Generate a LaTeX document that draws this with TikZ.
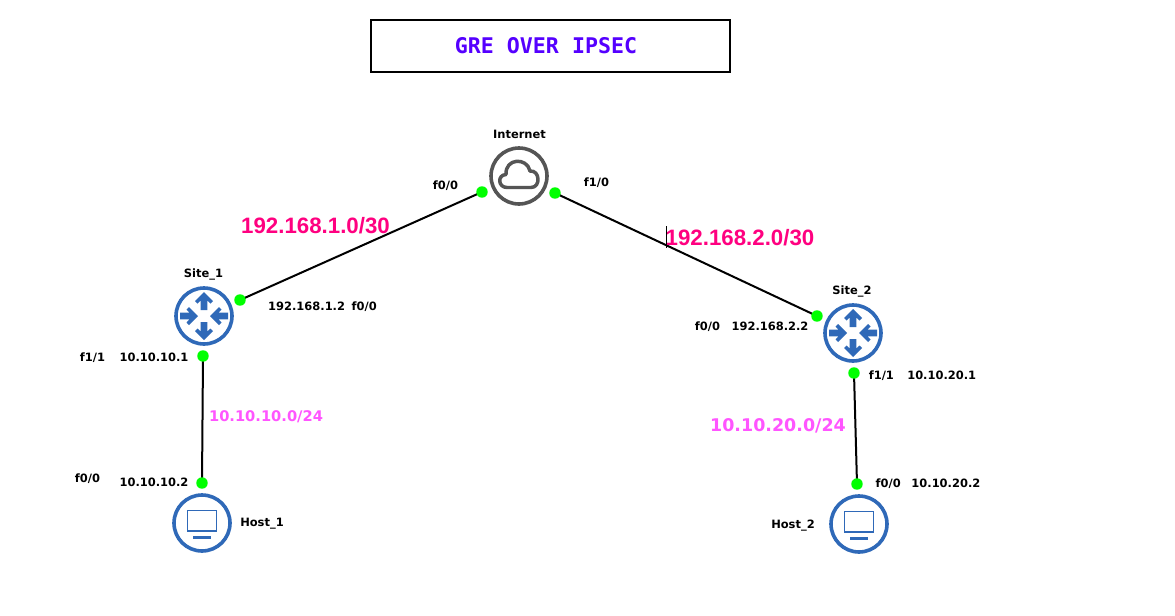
\documentclass[tikz,border=0pt]{standalone}
\usepackage{fontspec}
\setmainfont{Liberation Sans}
\newfontfamily\monof{DejaVu Sans Mono}
\newfontfamily\dvb{DejaVu Sans}
\usetikzlibrary{backgrounds}
\definecolor{iconblue}{HTML}{2F69B8}
\definecolor{icongrey}{HTML}{555555}
\definecolor{portgreen}{HTML}{00FF00}
\definecolor{netpink}{HTML}{FF0080}
\definecolor{lanpink}{HTML}{FF55FF}
\definecolor{titleblue}{HTML}{5500FF}
\tikzset{
 x=0.75pt,y=-0.75pt,
 lbl/.style={font=\dvb\fontsize{8.6pt}{11pt}\selectfont\bfseries,text=black,inner sep=0pt,anchor=center},
 netlbl/.style={font=\fontsize{16.7pt}{18pt}\selectfont\bfseries,text=netpink,inner sep=0pt,anchor=center},
 lanlbl/.style={font=\dvb\fontsize{#1}{18pt}\selectfont\bfseries,text=lanpink,inner sep=0pt,anchor=center},
 port/.style={circle,fill=portgreen,draw=none,minimum size=8.6pt,inner sep=0pt},
 link/.style={draw=black,line width=1.5pt},
 devblue/.style={circle,draw=iconblue,line width=2.7pt,fill=white,minimum size=42pt,inner sep=0pt},
 devgrey/.style={circle,draw=icongrey,line width=2.7pt,fill=white,minimum size=42pt,inner sep=0pt},
 arrowshape/.pic={
   \fill[iconblue] (0,-24) -- (9,-15) -- (6.5,-12.5) -- (3.4,-15.5) -- (3.4,-6) -- (-3.4,-6) -- (-3.4,-15.5) -- (-6.5,-12.5) -- (-9,-15) -- cycle;
 },
 inwardshape/.pic={
   \fill[iconblue] (0,-6) -- (9,-15) -- (6.5,-17.5) -- (3.4,-14.5) -- (3.4,-24) -- (-3.4,-24) -- (-3.4,-14.5) -- (-6.5,-17.5) -- (-9,-15) -- cycle;
 },
 pics/router/.style={code={
   \pic {arrowshape};
   \pic[rotate=180] {arrowshape};
   \pic[rotate=90] {inwardshape};
   \pic[rotate=-90] {inwardshape};
 }},
 pics/host/.style={code={
   \draw[iconblue,line width=1.4pt] (-14.5,-12.5) rectangle (14.5,8);
   \draw[iconblue,line width=1.7pt] (-9,14.5) -- (9,14.5);
 }},
}
\begin{document}
\begin{tikzpicture}
\useasboundingbox (0,0) rectangle (1175,615);
\node[draw=black,line width=1.5pt,minimum width=269pt,minimum height=38.5pt,inner sep=0pt] (title) at (550.5,46) {};
\node[font=\monof\fontsize{16.2pt}{20pt}\selectfont\bfseries,text=titleblue,inner sep=0pt] (titletext) at (546,46) {GRE OVER IPSEC};

\node[port] (p1) at (240,300) {};
\node[port] (p2) at (482,192) {};
\node[port] (p3) at (555,193) {};
\node[port] (p4) at (817,316) {};
\node[port] (p5) at (203,356) {};
\node[port] (p6) at (202,483) {};
\node[port] (p7) at (854,373) {};
\node[port] (p8) at (857,484) {};
\begin{scope}[on background layer]
\fill[white] (0,0) rectangle (1175,615);
\draw[link] (p1.center) -- (p2.center);
\draw[link] (p3.center) -- (p4.center);
\draw[link] (p5.center) -- (p6.center);
\draw[link] (p7.center) -- (p8.center);
\end{scope}

\node[devgrey] (internet) at (519,176) {};
\node[devblue] (site1) at (204,316) {};
\node[devblue] (site2) at (853,333) {};
\node[devblue] (host1) at (202,523) {};
\node[devblue] (host2) at (859,524) {};

\pic at (site1) {router};
\pic at (site2) {router};
\pic at (host1) {host};
\pic at (host2) {host};
\draw[icongrey,line width=2.6pt,line join=round] (507,187.5) .. controls (498,187.5) and (497,175) .. (506,174.5) .. controls (505,158) and (527,157) .. (530,171) .. controls (540,170) and (541,187.5) .. (531,187.5) -- cycle;

\node[lbl] (tinternet) at (519.5,134) {Internet};
\node[lbl] (tf00a) at (445.5,186) {f0/0};
\node[lbl] (tf10) at (596.5,182.5) {f1/0};
\node[netlbl] (n1) at (315.5,225.5) {192.168.1.0/30};
\node[netlbl] (n2) at (740,237.5) {192.168.2.0/30};
\coordinate (ctop) at (666,226);
\coordinate (cbot) at (666,248);
\draw[black,line width=0.75pt] (ctop) -- (cbot);
\node[lbl] (tsite1) at (203.5,274.5) {Site\_1};
\node[lbl] (tsite2) at (852,291.5) {Site\_2};
\node[lbl] (t1) at (322.5,306.5) {192.168.1.2\hspace{5pt}f0/0};
\node[lbl] (t2) at (707.5,326.5) {f0/0};
\node[lbl] (t3) at (770,326) {192.168.2.2};
\node[lbl] (t4) at (92.5,357.5) {f1/1};
\node[lbl] (t5) at (154,357.5) {10.10.10.1};
\node[lbl] (t6) at (922.5,376) {f1/1\hspace{10pt}10.10.20.1};
\node[lanlbl=11pt] (n3) at (266,416.5) {10.10.10.0/24};
\node[lanlbl=13.1pt] (n4) at (778,425.5) {10.10.20.0/24};
\node[lbl] (t7) at (87.5,478.5) {f0/0};
\node[lbl] (t8) at (154,482.5) {10.10.10.2};
\node[lbl] (t9) at (928,484) {f0/0\hspace{8pt}10.10.20.2};
\node[lbl] (thost1) at (262,523.5) {Host\_1};
\node[lbl] (thost2) at (793,525.5) {Host\_2};
\end{tikzpicture}
\end{document}
